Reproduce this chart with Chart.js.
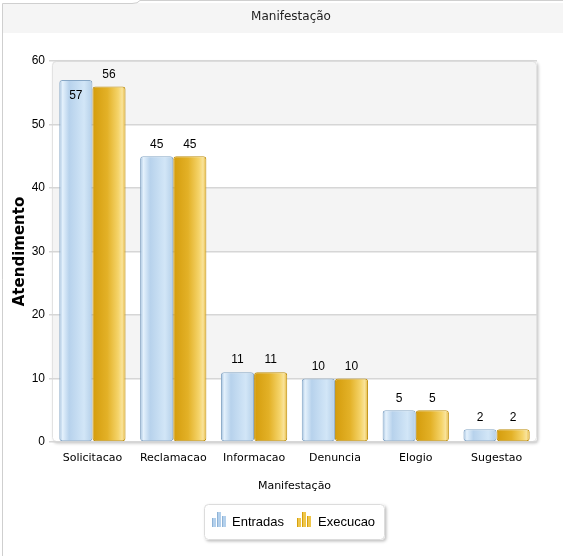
<!DOCTYPE html>
<html>
<head>
<meta charset="utf-8">
<script src="https://cdn.jsdelivr.net/npm/chart.js@4.4.1/dist/chart.umd.min.js"></script>
<style>
html,body{margin:0;padding:0;background:#fff;}
#wrap{position:relative;width:563px;height:556px;}
</style>
</head>
<body>
<div id="wrap"><canvas id="c" width="563" height="556"></canvas></div>
<script>
const categories = ['Solicitacao','Reclamacao','Informacao','Denuncia','Elogio','Sugestao'];
const entradas = [57,45,11,10,5,2];
const execucao = [56,45,11,10,5,2];
const seriesNames = ['Entradas','Execucao'];
const yTicks = [0,10,20,30,40,50,60];
const chartTitle = 'Manifestação';
const xTitle = 'Manifestação';
const yTitle = 'Atendimento';

const CAT_PCT = 0.82;

function barGradient(ctx, which){
  const chart = ctx.chart;
  const xs = chart.scales.x;
  if (!xs || !chart.chartArea || ctx.dataIndex === undefined) return which===0?'#c3dbf1':'#ecc240';
  const center = xs.getPixelForValue(ctx.dataIndex);
  const catW = (chart.chartArea.right - chart.chartArea.left)/categories.length;
  const w = catW*CAT_PCT/2;
  const x0 = which===0 ? center - w : center;
  const g = chart.ctx.createLinearGradient(x0, 0, x0 + w, 0);
  if (which===0){
    g.addColorStop(0,'#9dbddc');
    g.addColorStop(0.1,'#e4f1fc');
    g.addColorStop(0.3,'#b7d2ec');
    g.addColorStop(0.75,'#d2e6f7');
    g.addColorStop(1,'#b4cfe8');
  } else {
    g.addColorStop(0,'#d49c0c');
    g.addColorStop(0.45,'#e3b127');
    g.addColorStop(0.78,'#f5d46a');
    g.addColorStop(0.9,'#f9e39a');
    g.addColorStop(1,'#e5b535');
  }
  return g;
}

const framePlugin = {
  id:'frame',
  beforeDraw(chart){
    const c = chart.ctx, a = chart.chartArea;
    c.save();
    c.fillStyle = '#f5f5f5';
    c.fillRect(3, 3, 560, 30);
    c.strokeStyle = '#cfcfcf';
    c.lineWidth = 1;
    c.beginPath();
    c.moveTo(2.5, 556); c.lineTo(2.5, 3.5); c.lineTo(132, 3.5);
    c.quadraticCurveTo(138, 3.5, 140, 0.5); c.lineTo(563, 0.5);
    c.stroke();
    c.fillStyle = '#222';
    c.font = '12px "DejaVu Sans"';
    c.textAlign = 'center'; c.textBaseline = 'middle';
    c.fillText(chartTitle, 291, 17);
    const L=a.left, T=a.top, R=a.right, B=a.bottom;
    c.shadowColor = 'rgba(0,0,0,0.22)';
    c.shadowBlur = 3; c.shadowOffsetX = 1.5; c.shadowOffsetY = 1.5;
    c.fillStyle = '#fff';
    c.beginPath();
    if (c.roundRect) c.roundRect(L, T, R-L, B-T, 4); else c.rect(L,T,R-L,B-T);
    c.fill();
    c.shadowColor='transparent'; c.shadowBlur=0; c.shadowOffsetX=0; c.shadowOffsetY=0;
    const ys = chart.scales.y;
    c.save();
    c.beginPath();
    if (c.roundRect) c.roundRect(L, T, R-L, B-T, 4); else c.rect(L,T,R-L,B-T);
    c.clip();
    for (let i=0;i<yTicks.length-1;i++){
      const v0 = yTicks[i], v1 = yTicks[i+1];
      if (i%2===1){
        const y1 = ys.getPixelForValue(v1), y0 = ys.getPixelForValue(v0);
        c.fillStyle = '#f4f4f4';
        c.fillRect(L, y1, R-L, y0-y1);
      }
    }
    c.restore();
    c.strokeStyle = '#e2e2e2';
    c.beginPath();
    if (c.roundRect) c.roundRect(L+0.5, T+0.5, R-L-1, B-T-1, 4); else c.rect(L+0.5,T+0.5,R-L-1,B-T-1);
    c.stroke();
    c.restore();
  },
  afterDatasetsDraw(chart){
    const c = chart.ctx, a = chart.chartArea;
    c.save();
    c.font = '12px "Liberation Sans"';
    c.fillStyle = '#000';
    c.textAlign = 'center'; c.textBaseline = 'middle';
    chart.data.datasets.forEach((ds, di)=>{
      const meta = chart.getDatasetMeta(di);
      meta.data.forEach((bar, i)=>{
        const v = ds.data[i];
        let y = bar.y - 12;
        if (bar.y - 22 < a.top) y = bar.y + 16;
        c.fillText(String(v), bar.x, y);
      });
    });
    c.restore();
  },
  afterDraw(chart){
    const c = chart.ctx;
    c.save();
    const bx=204, by=504, bw=181, bh=36;
    c.shadowColor='rgba(0,0,0,0.25)'; c.shadowBlur=3; c.shadowOffsetX=1.5; c.shadowOffsetY=1.5;
    c.fillStyle='#fff';
    c.beginPath();
    if (c.roundRect) c.roundRect(bx,by,bw,bh,4); else c.rect(bx,by,bw,bh);
    c.fill();
    c.shadowColor='transparent'; c.shadowBlur=0; c.shadowOffsetX=0; c.shadowOffsetY=0;
    c.strokeStyle='#dcdcdc'; c.lineWidth=1;
    c.beginPath();
    if (c.roundRect) c.roundRect(bx+0.5,by+0.5,bw-1,bh-1,4); else c.rect(bx+0.5,by+0.5,bw-1,bh-1);
    c.stroke();
    const items = [
      {x:212, tx:232, cols:['#b3d0ec','#8fb3d6']},
      {x:297, tx:318, cols:['#efc64a','#d7a10f']}
    ];
    c.font='13px "Liberation Sans"'; c.fillStyle='#000';
    c.textAlign='left'; c.textBaseline='middle';
    chart.data.datasets.forEach((ds, di)=>{
      const it = items[di];
      const base = 527;
      const hs=[9,15,11];
      for (let k=0;k<3;k++){
        const x = it.x + k*5;
        c.fillStyle = it.cols[0];
        c.fillRect(x, base-hs[k], 4, hs[k]);
        c.fillStyle = it.cols[1];
        c.fillRect(x, base-hs[k], 1, hs[k]);
      }
      c.fillStyle='#000';
      c.fillText(ds.label, it.tx, 522);
    });
    c.restore();
  }
};

new Chart(document.getElementById('c'), {
  type:'bar',
  data:{
    labels: categories,
    datasets:[
      {label:seriesNames[0], data:entradas, backgroundColor:(ctx)=>barGradient(ctx,0), borderColor:'#87a7c6', borderWidth:1, borderRadius:3, borderSkipped:false},
      {label:seriesNames[1], data:execucao, backgroundColor:(ctx)=>barGradient(ctx,1), borderColor:'#bf9012', borderWidth:1, borderRadius:3, borderSkipped:false}
    ]
  },
  options:{
    responsive:false,
    animation:false,
    devicePixelRatio:1,
    categoryPercentage:CAT_PCT,
    barPercentage:1,
    layout:{padding:{left:11, right:26, top:61, bottom:59}},
    plugins:{legend:{display:false}, tooltip:{enabled:false}, title:{display:false}},
    scales:{
      x:{
        grid:{display:false},
        border:{display:false},
        ticks:{color:'#000', font:{family:'DejaVu Sans', size:11}, padding:2, maxRotation:0, autoSkip:false},
        title:{display:true, text:xTitle, color:'#000', font:{family:'DejaVu Sans', size:11}, padding:{top:10}},
        afterFit(s){ s.height = 55; }
      },
      y:{
        min:0, max:60,
        afterBuildTicks(s){ s.ticks = yTicks.map(v=>({value:v})); },
        grid:{color:'#d6d6d6', lineWidth:1.5, tickLength:3, drawOnChartArea:true},
        border:{display:false},
        ticks:{color:'#000', font:{family:'Liberation Sans', size:12}, padding:4},
        title:{display:true, text:yTitle, color:'#000', font:{family:'DejaVu Sans', size:15, weight:'bold'}, padding:{top:0,bottom:4}},
        afterFit(s){ s.width = 41; }
      }
    }
  },
  plugins:[framePlugin]
});
</script>
</body>
</html>
